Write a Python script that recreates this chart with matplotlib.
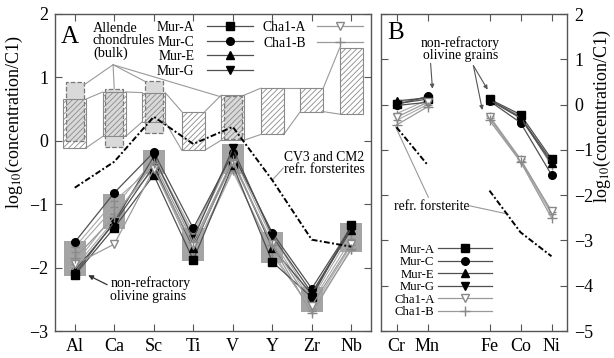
import matplotlib.pyplot as plt
from matplotlib.patches import Rectangle

plt.rcParams['font.family'] = ['Liberation Serif', 'DejaVu Serif']
plt.rcParams['mathtext.fontset'] = 'stix'
plt.rcParams['hatch.linewidth'] = 0.6
plt.rcParams['hatch.color'] = '#8a8a8a'

# ---- panel A : refractory lithophiles ----
elems_a = ['Al', 'Ca', 'Sc', 'Ti', 'V', 'Y', 'Zr', 'Nb']

mur_a_A = [-2.12, -1.37, -0.54, -1.88, -0.38, -1.91, -2.47, -1.33]
mur_c_A = [-1.60, -0.82, -0.18, -1.38, -0.20, -1.45, -2.33, -1.36]
mur_e_A = [-2.05, -1.30, -0.40, -1.69, -0.30, -1.69, -2.42, -1.40]
mur_g_A = [-2.10, -1.28, -0.25, -1.55, -0.12, -1.50, -2.40, -1.38]
cha1_a_A = [-1.95, -1.63, -0.45, -1.65, -0.35, -1.62, -2.60, -1.62]
cha1_b_A = [-1.85, -1.20, -0.35, -1.60, -0.30, -1.65, -2.72, -1.70]
more_grains_A = [
    [-1.75, -1.05, -0.30, -1.50, -0.22, -1.55, -2.55, -1.55],
    [-1.95, -1.15, -0.45, -1.75, -0.45, -1.80, -2.65, -1.65],
    [-2.00, -1.25, -0.28, -1.45, -0.15, -1.48, -2.50, -1.45],
    [-1.68, -0.95, -0.40, -1.80, -0.48, -1.75, -2.68, -1.72],
]

# range of the non-refractory olivine grains
grains_lo = [-2.13, -1.39, -0.52, -1.89, -0.52, -1.93, -2.70, -1.75]
grains_hi = [-1.58, -0.84, -0.15, -1.38, -0.05, -1.44, -2.30, -1.29]

# Allende chondrules (bulk)
chond_lo = [-0.11, 0.07, 0.30, -0.15, 0.01, 0.10, 0.46, 0.42]
chond_hi = [0.66, 0.77, 0.76, 0.46, 0.72, 0.83, 0.83, 1.47]
chond2_elems = ['Al', 'Ca', 'Sc', 'V']
chond2_lo = [0.00, -0.09, 0.12, 0.03]
chond2_hi = [0.92, 0.82, 0.94, 0.70]

# CV3 and CM2 refractory forsterites
forst_A = [-0.74, -0.33, 0.38, -0.05, 0.22, -0.62, -1.56, -1.67]

# ---- panel B : siderophiles ----
elems_b = ['Cr', 'Mn', 'Fe', 'Co', 'Ni']
pos_b = [0, 1, 3, 4, 5]

mur_a_B = [0.02, 0.12, 0.12, -0.22, -1.20]
mur_c_B = [0.00, 0.18, 0.08, -0.40, -1.55]
mur_e_B = [0.08, 0.15, 0.10, -0.30, -1.30]
mur_g_B = [-0.02, 0.05, 0.10, -0.28, -1.25]
cha1_a_B = [-0.28, 0.05, -0.28, -1.22, -2.35]
cha1_b_B = [-0.45, -0.05, -0.35, -1.26, -2.50]
more_grains_B = [
    [-0.35, 0.00, -0.30, -1.24, -2.42],
    [-0.20, 0.10, -0.25, -1.20, -2.38],
    [0.05, 0.15, 0.10, -0.25, -1.35],
]

forst_B = [-0.50, -1.33, -1.90, -2.82, -3.35]

styles = [
    ('Mur-A', mur_a_A, mur_a_B, dict(color='#505050', marker='s', mfc='black', mec='black', ms=5.5)),
    ('Mur-C', mur_c_A, mur_c_B, dict(color='#505050', marker='o', mfc='black', mec='black', ms=5.5)),
    ('Mur-E', mur_e_A, mur_e_B, dict(color='#505050', marker='^', mfc='black', mec='black', ms=5.5)),
    ('Mur-G', mur_g_A, mur_g_B, dict(color='#505050', marker='v', mfc='black', mec='black', ms=5.5)),
    ('Cha1-A', cha1_a_A, cha1_a_B, dict(color='#9a9a9a', marker='v', mfc='white', mec='#888888', ms=6)),
    ('Cha1-B', cha1_b_A, cha1_b_B, dict(color='#9a9a9a', marker='+', mec='#888888', ms=7)),
]

fig = plt.figure(figsize=(6.14, 3.58), dpi=100)
axA = fig.add_axes([55 / 614, 27 / 358, 316 / 614, 317 / 358])
axB = fig.add_axes([381 / 614, 27 / 358, 186 / 614, 317 / 358])

xa = list(range(len(elems_a)))
wc, wd, wg = 0.58, 0.46, 0.55

# chondrule boxes: dashed grey ones first, hatched ones on top
for el, lo, hi in zip(chond2_elems, chond2_lo, chond2_hi):
    i = elems_a.index(el)
    axA.add_patch(Rectangle((i - wd / 2, lo), wd, hi - lo, facecolor='#d9d9d9',
                            edgecolor='#777777', ls='--', lw=0.9, zorder=1))
for i in xa:
    axA.add_patch(Rectangle((i - wc / 2, chond_lo[i]), wc, chond_hi[i] - chond_lo[i],
                            fill=False, hatch='//////', edgecolor='#8a8a8a', lw=0.8, zorder=1.2))
for i in xa[:-1]:
    for arr in (chond_lo, chond_hi):
        axA.plot([i + wc / 2, i + 1 - wc / 2], [arr[i], arr[i + 1]], color='#9a9a9a', lw=0.8, zorder=1.1)

# grey boxes around the olivine grains
for i in xa:
    axA.add_patch(Rectangle((i - wg / 2, grains_lo[i]), wg, grains_hi[i] - grains_lo[i],
                            facecolor='#a4a4a4', edgecolor='none', zorder=1.5))

for g in more_grains_A:
    axA.plot(xa, g, color='#a8a8a8', lw=0.8, marker='+', mec='#8a8a8a', ms=6, zorder=2)
handles = []
for name, va, vb, st in styles:
    ln, = axA.plot(xa, va, lw=0.9, label=name, zorder=3, **st)
    handles.append(ln)

axA.plot(xa, forst_A, color='black', lw=1.4, ls=(0, (3, 1.2, 1, 1.2)), zorder=4)

axA.set_xlim(-0.5, 7.5)
axA.set_ylim(-3, 2)
axA.set_xticks(xa)
axA.set_xticklabels(elems_a)
axA.set_yticks(range(-3, 3))

# panel B
for g in more_grains_B:
    axB.plot(pos_b[:2], g[:2], color='#a8a8a8', lw=0.8, marker='+', mec='#8a8a8a', ms=6, zorder=2)
    axB.plot(pos_b[2:], g[2:], color='#a8a8a8', lw=0.8, marker='+', mec='#8a8a8a', ms=6, zorder=2)
for name, va, vb, st in styles:
    axB.plot(pos_b[:2], vb[:2], lw=0.9, zorder=3, **st)
    axB.plot(pos_b[2:], vb[2:], lw=0.9, zorder=3, **st)
axB.plot(pos_b[:2], forst_B[:2], color='black', lw=1.4, ls=(0, (3, 1.2, 1, 1.2)), zorder=4)
axB.plot(pos_b[2:], forst_B[2:], color='black', lw=1.4, ls=(0, (3, 1.2, 1, 1.2)), zorder=4)

axB.set_xlim(-0.5, 5.5)
axB.set_ylim(-5, 2)
axB.set_xticks(pos_b)
axB.set_xticklabels(elems_b)
axB.set_yticks(range(-5, 3))
axB.yaxis.tick_right()

for ax in (axA, axB):
    ax.tick_params(direction='in', top=True, right=True, left=True, length=5,
                   color='#555555', labelsize=13, pad=5)
    for s in ax.spines.values():
        s.set_color('#555555')
        s.set_linewidth(1.0)
axB.tick_params(labelleft=False, labelright=True)

ylab = r'log$_{10}$(concentration/C1)'
fig.text(14 / 614, 1 - 122 / 358, ylab, rotation=90, ha='center', va='center', fontsize=13)
fig.text(602 / 614, 1 - 116 / 358, ylab, rotation=90, ha='center', va='center', fontsize=13)

# legends
legA1 = axA.legend(handles[:4], [h.get_label() for h in handles[:4]], loc='upper right',
                   bbox_to_anchor=(0.627, 0.978), frameon=False, markerfirst=False,
                   fontsize=9.8, handlelength=3.4, handletextpad=0.9, labelspacing=0.12,
                   borderpad=0, borderaxespad=0)
axA.add_artist(legA1)
axA.legend(handles[4:], [h.get_label() for h in handles[4:]], loc='upper right',
           bbox_to_anchor=(0.975, 0.978), frameon=False, markerfirst=False,
           fontsize=9.8, handlelength=3.4, handletextpad=0.8, labelspacing=0.2,
           borderpad=0, borderaxespad=0)
axB.legend(handles, [h.get_label() for h in handles], loc='upper right',
           bbox_to_anchor=(0.597, 0.275), frameon=False, markerfirst=False,
           fontsize=9.2, handlelength=4.2, handletextpad=0.3, labelspacing=0.04,
           borderpad=0, borderaxespad=0)

# labels and leaders
axA.text(-0.12, 1.64, 'A', fontsize=18, ha='center', va='center')
axB.text(-0.03, 1.58, 'B', fontsize=18, ha='center', va='center')

axA.text(0.46, 1.87, 'Allende\nchondrules\n(bulk)', fontsize=10.3, ha='left', va='top', linespacing=0.92)
for tx, ty in [(0.23, 0.88), (1.0, 0.82), (1.77, 0.94), (3.72, 0.69)]:
    axA.annotate('', xy=(tx, ty), xytext=(0.97, 1.20),
                 arrowprops=dict(arrowstyle='-', color='#999999', lw=0.8, shrinkA=0, shrinkB=0))

axA.text(6.31, -0.36, 'CV3 and CM2\nrefr. forsterites', fontsize=9.8, ha='center', va='center', linespacing=0.95)
axA.annotate('', xy=(5.0, -0.62), xytext=(5.28, -0.43),
             arrowprops=dict(arrowstyle='-', color='#999999', lw=0.8, shrinkA=0, shrinkB=0))

axA.text(0.9, -2.35, 'non-refractory\nolivine grains', fontsize=10, ha='left', va='center', linespacing=0.95)
axA.annotate('', xy=(0.34, -2.12), xytext=(0.82, -2.27),
             arrowprops=dict(arrowstyle='-|>', color='#333333', lw=0.9, mutation_scale=7,
                             shrinkA=0, shrinkB=0))

axB.text(2.06, 1.23, 'non-refractory\nolivine grains', fontsize=9.8, ha='center', va='center', linespacing=0.95)
for (x0, y0), (x1, y1) in [((1.10, 0.91), (1.16, 0.35)), ((2.48, 0.86), (2.94, 0.33)),
                           ((2.48, 0.86), (2.77, -0.12))]:
    axB.annotate('', xy=(x1, y1), xytext=(x0, y0),
                 arrowprops=dict(arrowstyle='-|>', color='#555555', lw=0.8, mutation_scale=6,
                                 shrinkA=0, shrinkB=0))

axB.text(1.13, -2.24, 'refr. forsterite', fontsize=9.8, ha='center', va='center')
axB.annotate('', xy=(-0.03, -0.49), xytext=(1.03, -2.05),
             arrowprops=dict(arrowstyle='-', color='#999999', lw=0.8, shrinkA=0, shrinkB=0))
axB.annotate('', xy=(3.61, -2.42), xytext=(2.32, -2.23),
             arrowprops=dict(arrowstyle='-', color='#999999', lw=0.8, shrinkA=0, shrinkB=0))

fig.savefig('out.png', dpi=100)
